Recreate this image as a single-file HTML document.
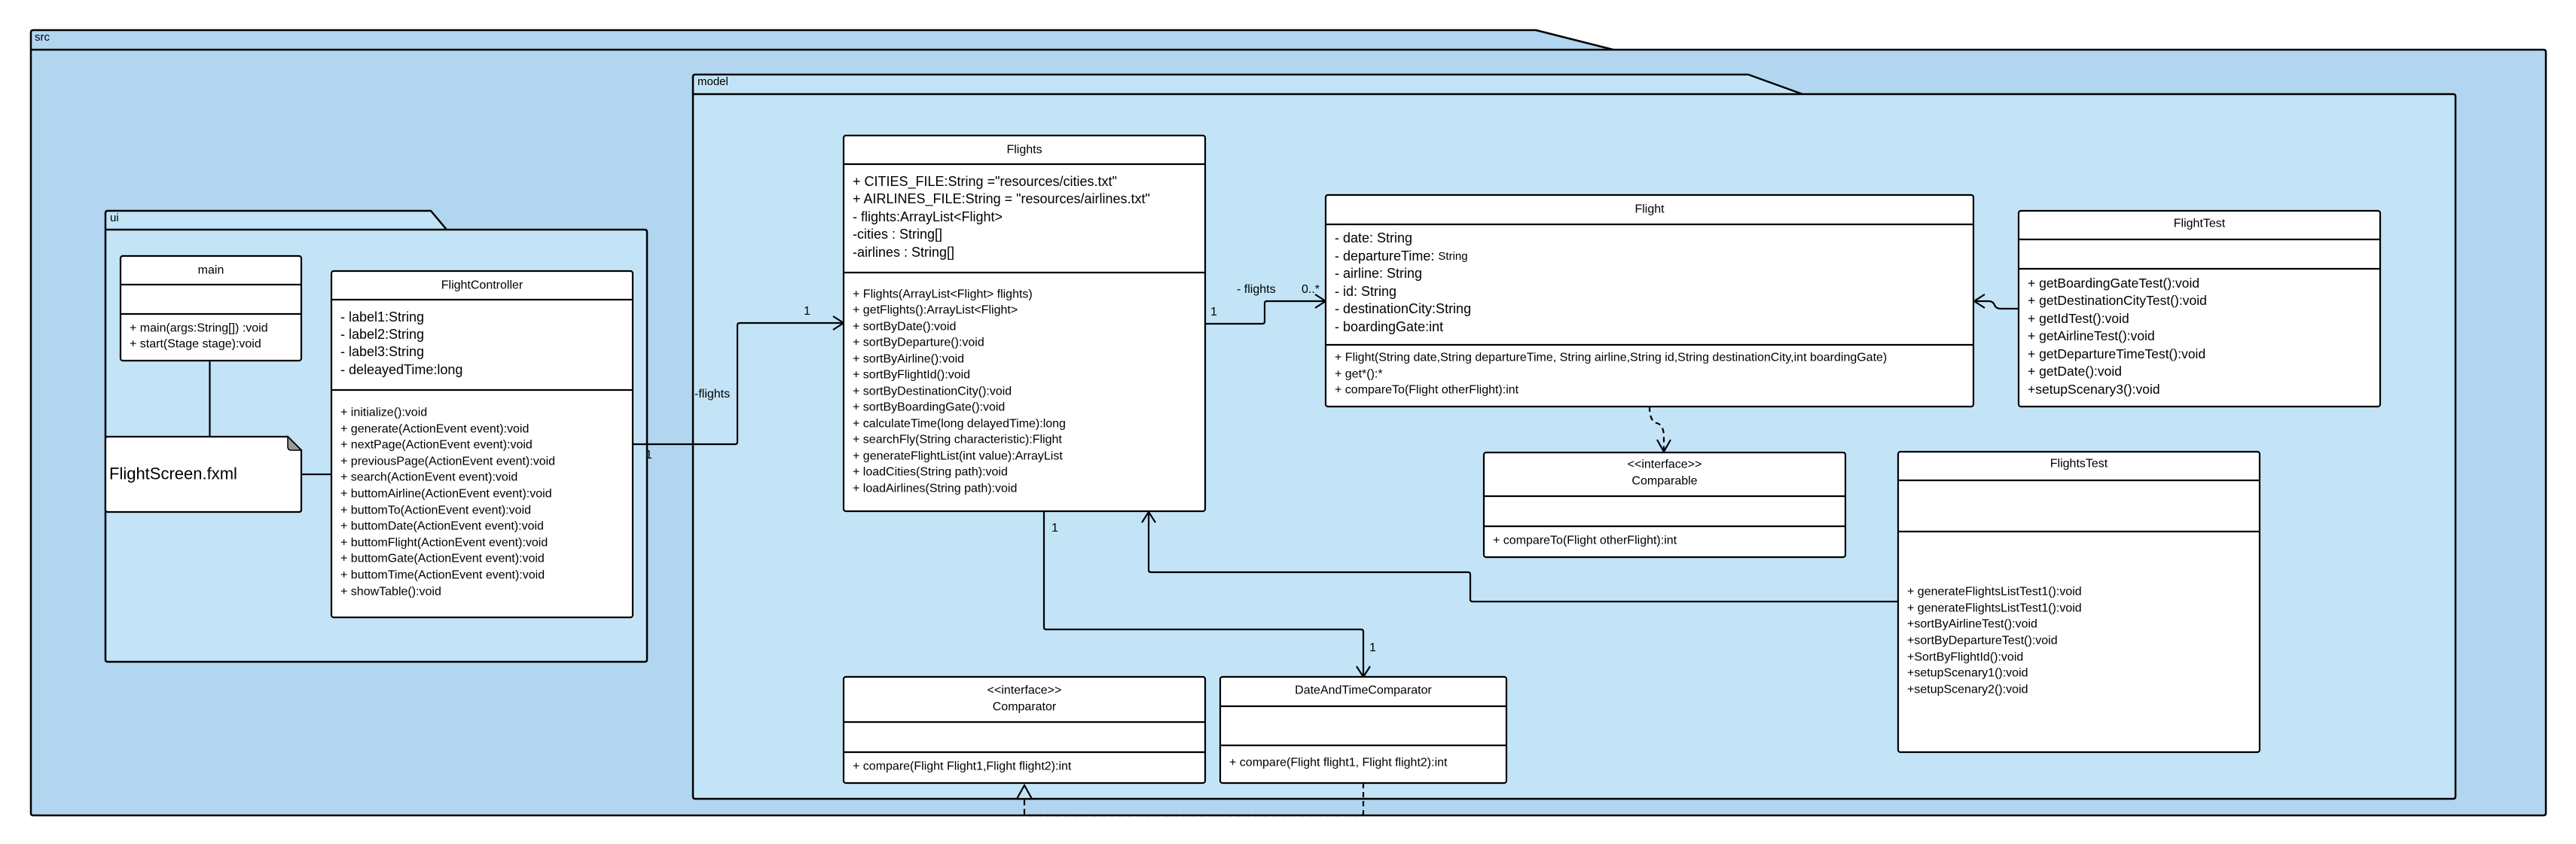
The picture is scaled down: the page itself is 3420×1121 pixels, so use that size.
<!DOCTYPE html>
<html><head><meta charset="utf-8"><style>
html,body{margin:0;padding:0;background:#fff;}
svg{display:block;}
text{font-family:"Liberation Sans",Arial,sans-serif;fill:#000;}
</style></head><body>
<svg width="3420" height="1121" viewBox="0 0 3420 1121" xmlns="http://www.w3.org/2000/svg">
<g stroke="#000" stroke-width="2.5" stroke-linejoin="round">
<!-- src package -->
<path d="M41,66 L41,43 Q41,40 44,40 L2039,40 L2142,66" fill="#b2d6ef"/>
<path d="M41,66 L3377,66 Q3380,66 3380,69 L3380,1080 Q3380,1083 3377,1083 L44,1083 Q41,1083 41,1080 Z" fill="#b2d6ef"/>
<!-- model package -->
<path d="M920,125 L920,102 Q920,99 923,99 L2321,99 L2393,125" fill="#c3e4f6"/>
<path d="M920,125 L3257,125 Q3260,125 3260,128 L3260,1058 Q3260,1061 3257,1061 L923,1061 Q920,1061 920,1058 Z" fill="#c3e4f6"/>
<!-- ui package -->
<path d="M140,305 L140,283 Q140,280 143,280 L572,280 L593,305" fill="#c3e4f6"/>
<path d="M140,305 L856,305 Q859,305 859,308 L859,876 Q859,879 856,879 L143,879 Q140,879 140,876 Z" fill="#c3e4f6"/>
</g>
<text x="46" y="54" font-size="15">src</text>
<text x="926" y="113" font-size="15">model</text>
<text x="146" y="294" font-size="15">ui</text>

<g fill="none" stroke="#000" stroke-width="2.2">
<!-- main - note -->
<line x1="278.5" y1="479" x2="278.5" y2="580"/>
<line x1="400" y1="630" x2="440" y2="630"/>
<!-- FC -> Flights -->
<path d="M840,590 L976,590 Q979,590 979,587 L979,432 Q979,429 982,429 L1120,429"/>
<path d="M1106,420 L1120,429 L1106,438"/>
<!-- Flights -> Flight -->
<path d="M1600,430 L1676,430 Q1679,430 1679,427 L1679,403 Q1679,400 1682,400 L1760,400"/>
<path d="M1746,391 L1760,400 L1746,409"/>
<!-- FlightTest -> Flight -->
<path d="M2680,410 L2656,410 Q2650,410 2648,405 Q2646,400 2640,400 L2621,400"/>
<path d="M2635,391 L2621,400 L2635,409"/>
<!-- Flights -> DATC -->
<path d="M1386,679 L1386,833 Q1386,836 1389,836 L1807,836 Q1810,836 1810,839 L1810,899"/>
<path d="M1801,885 L1810,899 L1819,885"/>
<!-- FlightsTest -> Flights -->
<path d="M2520,799 L1955,799 Q1952,799 1952,796 L1952,763 Q1952,760 1949,760 L1528,760 Q1525,760 1525,757 L1525,680"/>
<path d="M1516,694 L1525,680 L1534,694"/>
<!-- DATC ..> Comparator -->
<path d="M1810,1040 L1810,1080 Q1810,1083 1807,1083 L1363,1083 Q1360,1083 1360,1080 L1360,1043" stroke-dasharray="7,5"/>
<path d="M1350,1061 L1360,1043 L1370,1061 Z" fill="#c3e4f6"/>
<!-- Flight ..> Comparable -->
<path d="M2190,540 Q2190,560 2200,562 Q2209,565 2209,580 L2209,600" stroke-dasharray="7,5"/>
<path d="M2200,584 L2209,600 L2218,584"/>
</g>
<text x="857" y="609" font-size="16">1</text>
<text x="922" y="528" font-size="16">-flights</text>
<text x="1067" y="418" font-size="16">1</text>
<text x="1607" y="419" font-size="16">1</text>
<text x="1642" y="389" font-size="16">- flights</text>
<text x="1728" y="389" font-size="16">0..*</text>
<text x="1396" y="706" font-size="16">1</text>
<text x="1818" y="865" font-size="16">1</text>

<g fill="#fff" stroke="#000" stroke-width="2.2">
<rect x="160" y="340" width="240" height="139" rx="3"/>
<line x1="160" y1="378" x2="400" y2="378"/><line x1="160" y1="417" x2="400" y2="417"/>
<rect x="440" y="360" width="400" height="460" rx="3"/>
<line x1="440" y1="398" x2="840" y2="398"/><line x1="440" y1="518" x2="840" y2="518"/>
<path d="M143,580 L382,580 L400,598 L400,677 Q400,680 397,680 L143,680 Q140,680 140,677 L140,583 Q140,580 143,580 Z"/>
<rect x="1120" y="180" width="480" height="499" rx="3"/>
<line x1="1120" y1="218" x2="1600" y2="218"/><line x1="1120" y1="362" x2="1600" y2="362"/>
<rect x="1760" y="259" width="860" height="281" rx="3"/>
<line x1="1760" y1="298" x2="2620" y2="298"/><line x1="1760" y1="458" x2="2620" y2="458"/>
<rect x="1970" y="601" width="480" height="139" rx="3"/>
<line x1="1970" y1="659" x2="2450" y2="659"/><line x1="1970" y1="699" x2="2450" y2="699"/>
<rect x="2680" y="280" width="480" height="260" rx="3"/>
<line x1="2680" y1="318" x2="3160" y2="318"/><line x1="2680" y1="357" x2="3160" y2="357"/>
<rect x="2520" y="600" width="480" height="399" rx="3"/>
<line x1="2520" y1="638" x2="3000" y2="638"/><line x1="2520" y1="706" x2="3000" y2="706"/>
<rect x="1120" y="899" width="480" height="141" rx="3"/>
<line x1="1120" y1="959" x2="1600" y2="959"/><line x1="1120" y1="999" x2="1600" y2="999"/>
<rect x="1620" y="899" width="380" height="141" rx="3"/>
<line x1="1620" y1="938" x2="2000" y2="938"/><line x1="1620" y1="990" x2="2000" y2="990"/>
</g>
<path d="M382,580 L382,593 Q382,598 387,598 L400,598 Z" fill="#9a9a9a" stroke="#000" stroke-width="1.5"/>

<g font-size="16" dominant-baseline="central">
<text x="280" y="359" text-anchor="middle">main</text>
<text x="172" y="436">+ main(args:String[]) :void</text>
<text x="172" y="457">+ start(Stage stage):void</text>

<text x="640" y="379" text-anchor="middle">FlightController</text>
<g font-size="18">
<text x="452" y="421">- label1:String</text>
<text x="452" y="444">- label2:String</text>
<text x="452" y="467">- label3:String</text>
<text x="452" y="491">- deleayedTime:long</text>
</g>
<text x="452" y="548">+ initialize():void</text>
<text x="452" y="570">+ generate(ActionEvent event):void</text>
<text x="452" y="591">+ nextPage(ActionEvent event):void</text>
<text x="452" y="613">+ previousPage(ActionEvent event):void</text>
<text x="452" y="634">+ search(ActionEvent event):void</text>
<text x="452" y="656">+ buttomAirline(ActionEvent event):void</text>
<text x="452" y="678">+ buttomTo(ActionEvent event):void</text>
<text x="452" y="699">+ buttomDate(ActionEvent event):void</text>
<text x="452" y="721">+ buttomFlight(ActionEvent event):void</text>
<text x="452" y="742">+ buttomGate(ActionEvent event):void</text>
<text x="452" y="764">+ buttomTime(ActionEvent event):void</text>
<text x="452" y="786">+ showTable():void</text>

<text x="145" y="629" font-size="22">FlightScreen.fxml</text>

<text x="1360" y="199" text-anchor="middle">Flights</text>
<g font-size="18">
<text x="1132" y="241">+ CITIES_FILE:String ="resources/cities.txt"</text>
<text x="1132" y="264">+ AIRLINES_FILE:String = "resources/airlines.txt"</text>
<text x="1132" y="288">- flights:ArrayList&lt;Flight&gt;</text>
<text x="1132" y="311">-cities : String[]</text>
<text x="1132" y="335">-airlines : String[]</text>
</g>
<text x="1132" y="391">+ Flights(ArrayList&lt;Flight&gt; flights)</text>
<text x="1132" y="412">+ getFlights():ArrayList&lt;Flight&gt;</text>
<text x="1132" y="434">+ sortByDate():void</text>
<text x="1132" y="455">+ sortByDeparture():void</text>
<text x="1132" y="477">+ sortByAirline():void</text>
<text x="1132" y="498">+ sortByFlightId():void</text>
<text x="1132" y="520">+ sortByDestinationCity():void</text>
<text x="1132" y="541">+ sortByBoardingGate():void</text>
<text x="1132" y="563">+ calculateTime(long delayedTime):long</text>
<text x="1132" y="584">+ searchFly(String characteristic):Flight</text>
<text x="1132" y="606">+ generateFlightList(int value):ArrayList</text>
<text x="1132" y="627">+ loadCities(String path):void</text>
<text x="1132" y="649">+ loadAirlines(String path):void</text>

<text x="2190" y="278" text-anchor="middle">Flight</text>
<g font-size="18">
<text x="1772" y="316">- date: String</text>
<text x="1772" y="340">- departureTime<tspan>: </tspan><tspan font-size="15">String</tspan></text>
<text x="1772" y="363">- airline: String</text>
<text x="1772" y="387">- id: String</text>
<text x="1772" y="410">- destinationCity:String</text>
<text x="1772" y="434">- boardingGate:int</text>
</g>
<text x="1772" y="475">+ Flight(String date,String departureTime, String airline,String id,String destinationCity,int boardingGate)</text>
<text x="1772" y="497">+ get*():*</text>
<text x="1772" y="518">+ compareTo(Flight otherFlight):int</text>

<text x="2210" y="617" text-anchor="middle">&lt;&lt;interface&gt;&gt;</text>
<text x="2210" y="639" text-anchor="middle">Comparable</text>
<text x="1982" y="718">+ compareTo(Flight otherFlight):int</text>

<text x="2920" y="297" text-anchor="middle">FlightTest</text>
<g font-size="17.5">
<text x="2692" y="376">+ getBoardingGateTest():void</text>
<text x="2692" y="399">+ getDestinationCityTest():void</text>
<text x="2692" y="423">+ getIdTest():void</text>
<text x="2692" y="446">+ getAirlineTest():void</text>
<text x="2692" y="470">+ getDepartureTimeTest():void</text>
<text x="2692" y="493">+ getDate():void</text>
<text x="2692" y="517">+setupScenary3():void</text>
</g>

<text x="2760" y="616" text-anchor="middle">FlightsTest</text>
<text x="2532" y="786">+ generateFlightsListTest1():void</text>
<text x="2532" y="808">+ generateFlightsListTest1():void</text>
<text x="2532" y="829">+sortByAirlineTest():void</text>
<text x="2532" y="851">+sortByDepartureTest():void</text>
<text x="2532" y="873">+SortByFlightId():void</text>
<text x="2532" y="894">+setupScenary1():void</text>
<text x="2532" y="916">+setupScenary2():void</text>

<text x="1360" y="917" text-anchor="middle">&lt;&lt;interface&gt;&gt;</text>
<text x="1360" y="939" text-anchor="middle">Comparator</text>
<text x="1132" y="1018">+ compare(Flight Flight1,Flight flight2):int</text>

<text x="1810" y="917" text-anchor="middle">DateAndTimeComparator</text>
<text x="1632" y="1013">+ compare(Flight flight1, Flight flight2):int</text>
</g>
</svg>
</body></html>
